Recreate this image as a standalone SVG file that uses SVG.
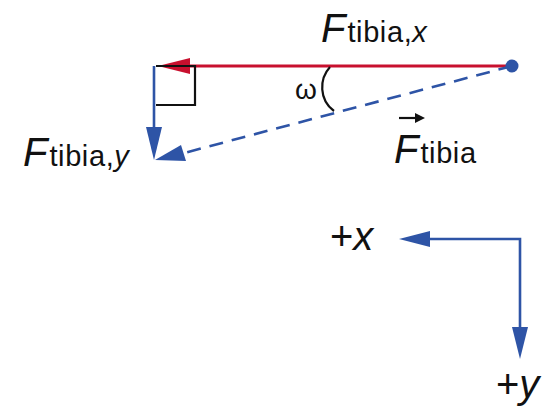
<svg xmlns="http://www.w3.org/2000/svg" width="559" height="408" viewBox="0 0 559 408">
<defs>
<style>
.lbl{font-family:"Liberation Sans",Arial,sans-serif;fill:#111;}
.it{font-style:italic;}
.big{font-size:40px;}
.sub{font-size:29px;letter-spacing:0.6px;}
.blue{stroke:#2e54a6;fill:none;stroke-width:2.6;}
.red{stroke:#c8102e;fill:none;stroke-width:2.8;}
.hb{fill:#2e54a6;}
.hr{fill:#c8102e;}
</style>
</defs>
<rect width="559" height="408" fill="#fff"/>
<g id="connectors">
<line class="red" x1="512" y1="66" x2="186" y2="66"/>
<polygon class="hr" points="158,66 190,58 190,74"/>
<line class="blue" x1="154" y1="66" x2="154" y2="130"/>
<polygon class="hb" points="154,160 146,127 162,127"/>
<line class="blue" x1="512" y1="66" x2="184" y2="153" stroke-dasharray="14 9"/>
<polygon class="hb" points="155,160 181,145 186,161"/>
<polyline points="156,66 195,66 195,105 156,105" fill="none" stroke="#111" stroke-width="2.2"/>
<path d="M330,67 C319,79 319,100 334,111" fill="none" stroke="#111" stroke-width="2.2"/>
<polyline class="blue" points="427,239 520,239 520,330"/>
<polygon class="hb" points="399,239 430,231 430,247"/>
<polygon class="hb" points="520,359 512,327 528,327"/>
</g>
<g id="origin"><circle cx="512" cy="66" r="6.5" fill="#2e54a6"/></g>
<g id="label-fx"><text class="lbl" x="321" y="42"><tspan class="it big">F</tspan><tspan class="sub" dx="2">tibia,</tspan><tspan class="sub it">x</tspan></text></g>
<g id="label-fy"><text class="lbl" x="23" y="166"><tspan class="it big">F</tspan><tspan class="sub" dx="2">tibia,</tspan><tspan class="sub it">y</tspan></text></g>
<g id="label-f"><text class="lbl" x="394" y="163"><tspan class="it big">F</tspan><tspan class="sub" dx="2">tibia</tspan></text>
<line x1="399" y1="118" x2="418" y2="118" stroke="#111" stroke-width="2.2"/>
<polygon points="425,118 415,113 415,123" fill="#111"/></g>
<g id="label-omega"><text class="lbl" x="295" y="99" font-size="28">ω</text></g>
<g id="axis-x"><text class="lbl" x="330" y="250" font-size="40"><tspan>+</tspan><tspan class="it">x</tspan></text></g>
<g id="axis-y"><text class="lbl" x="496" y="398" font-size="40"><tspan>+</tspan><tspan class="it">y</tspan></text></g>
</svg>
